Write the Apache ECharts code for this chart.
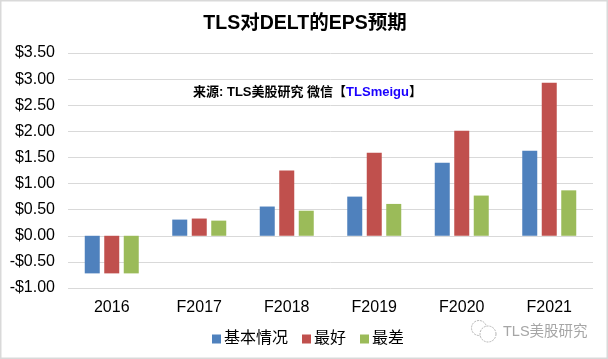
<!DOCTYPE html>
<html>
<head>
<meta charset="utf-8">
<style>
  html, body { margin: 0; padding: 0; background: #fff; }
  #chart { width: 608px; height: 359px; }
</style>
<script src="https://cdn.jsdelivr.net/npm/echarts@6/dist/echarts.min.js"></script>
</head>
<body>
<div id="chart"></div>
<script>
const categories = ['2016', 'F2017', 'F2018', 'F2019', 'F2020', 'F2021']
const baseCase = [-0.72, 0.31, 0.56, 0.75, 1.40, 1.63]
const bestCase = [-0.72, 0.33, 1.25, 1.59, 2.01, 2.93]
const worstCase = [-0.72, 0.29, 0.48, 0.61, 0.77, 0.87]

const fontFamily = '"Liberation Sans", "Noto Sans CJK SC", sans-serif'
const gridColor = '#d9d9d9'
const formatMoney = (v) => (v < 0 ? '-$' : '$') + Math.abs(v).toFixed(2)

const myCharts = echarts.init(document.getElementById('chart'), null, { renderer: 'canvas' })

myCharts.setOption({
  animation: false,
  backgroundColor: '#fff',
  textStyle: { fontFamily },
  grid: { left: 68, right: 15, top: 53, bottom: 71 },
  legend: {
    left: 207,
    top: 326,
    itemWidth: 9,
    itemHeight: 9,
    itemGap: 14,
    icon: 'rect',
    textStyle: { fontSize: 16, color: '#000', padding: [0, 0, 0, -2] },
    data: ['基本情况', '最好', '最差']
  },
  xAxis: {
    type: 'category',
    data: categories,
    axisLine: { show: false, onZero: false },
    axisTick: { show: false },
    axisLabel: { fontSize: 16, color: '#000', margin: 12 }
  },
  yAxis: {
    type: 'value',
    min: -1,
    max: 3.5,
    interval: 0.5,
    axisLine: { show: false },
    axisTick: { show: false },
    axisLabel: { fontSize: 16, color: '#000', margin: 13, formatter: formatMoney },
    splitLine: { lineStyle: { color: gridColor, width: 1 } }
  },
  series: [
    { name: '基本情况', type: 'bar', data: baseCase, barWidth: 15, barGap: '30%', itemStyle: { color: '#4f81bd' } },
    { name: '最好', type: 'bar', data: bestCase, barWidth: 15, barGap: '30%', itemStyle: { color: '#c0504d' } },
    { name: '最差', type: 'bar', data: worstCase, barWidth: 15, barGap: '30%', itemStyle: { color: '#9bbb59' } }
  ],
  graphic: [
    // 外框
    { type: 'rect', z: 100, shape: { x: 0.5, y: 0.5, width: 607, height: 358 }, style: { fill: 'none', stroke: '#d9d9d9', lineWidth: 2 } },
    // 标题
    { type: 'text', z: 100, x: 305, y: 24, style: { text: 'TLS对DELT的EPS预期', font: 'bold 19.5px ' + fontFamily, fill: '#000', align: 'center', verticalAlign: 'middle' } },
    // 来源
    {
      type: 'text', z: 100, x: 193, y: 92.5,
      style: {
        text: '{a|来源: TLS美股研究 微信【}{b|TLSmeigu}{a|】}',
        verticalAlign: 'middle',
        rich: {
          a: { font: 'bold 13px ' + fontFamily, fill: '#000' },
          b: { font: 'bold 13px ' + fontFamily, fill: '#1a00ff' }
        }
      }
    },
    // 水印
    { type: 'text', z: 100, x: 503, y: 332, style: { text: 'TLS美股研究', font: '14.5px ' + fontFamily, fill: '#a6a6a6', verticalAlign: 'middle' } },
    { type: 'circle', z: 100, shape: { cx: 479, cy: 328, r: 7.5 }, style: { fill: '#fff', stroke: '#b5b5b5', lineWidth: 1, lineDash: [2, 1] } },
    { type: 'circle', z: 100, shape: { cx: 488, cy: 334, r: 8 }, style: { fill: '#fff', stroke: '#b5b5b5', lineWidth: 1, lineDash: [2, 1] } }
  ]
})
</script>
</body>
</html>
